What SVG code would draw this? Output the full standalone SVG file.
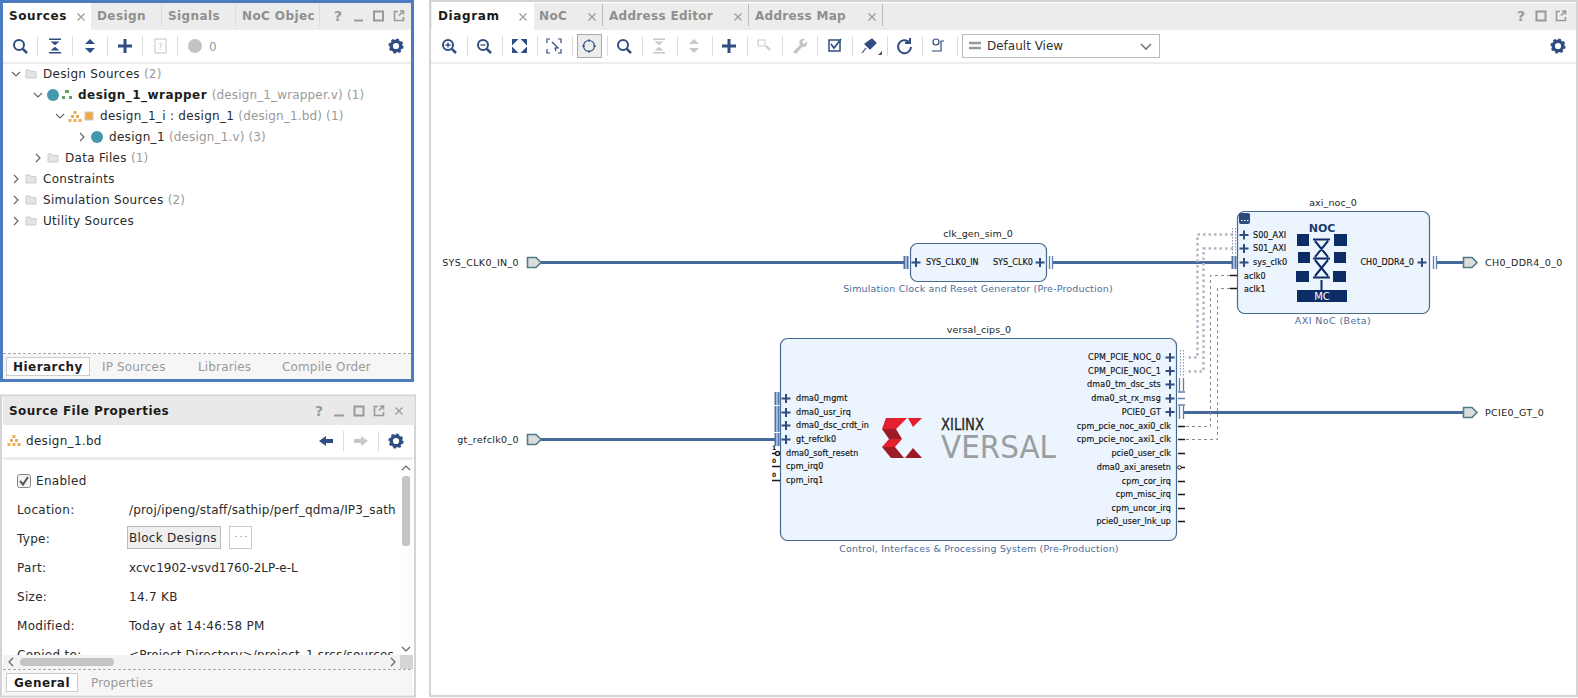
<svg xmlns="http://www.w3.org/2000/svg" width="1578" height="698" viewBox="0 0 1578 698">
<style>
text{font-family:"DejaVu Sans",sans-serif}
.tab{font-size:12px;font-weight:bold;letter-spacing:.4px;fill:#8f8f8f}
.tabon{font-size:12px;font-weight:bold;letter-spacing:.6px;fill:#1c1c1c}
.t{font-size:12px;letter-spacing:.3px;fill:#2a2a2a}
.g{font-size:12px;letter-spacing:.15px;fill:#9a9a9a}
.b{font-size:12px;font-weight:bold;letter-spacing:.45px;fill:#1c1c1c}
.p{font-size:8px;letter-spacing:.08px;fill:#111;stroke:#111;stroke-width:.15px}
.c{letter-spacing:.2px}
.e{text-anchor:end}
.name{font-size:9.5px;fill:#222;text-anchor:middle;letter-spacing:.1px}
.desc{font-size:9.5px;fill:#4f6d9a;text-anchor:middle;letter-spacing:.17px}
.ext{font-size:9.5px;fill:#222;letter-spacing:.35px}
.ic{fill:none;stroke:#2f4d80;stroke-width:2px}
.sep{stroke:#dcdcdc;stroke-width:1px}
.chev{fill:none;stroke:#666;stroke-width:1.2px}
.wire{fill:none;stroke:#47689a;stroke-width:3px}
.bus{fill:none;stroke:#5d7fae;stroke-width:1.3px}
.busk{fill:none;stroke:#4e72a5;stroke-width:2px}
.dot{fill:none;stroke:#7f97ba;stroke-width:1px;stroke-dasharray:1.5 1.5}
.dotw{fill:none;stroke:#b0b8c4;stroke-width:2.5px;stroke-dasharray:2.5 3}
.dash{fill:none;stroke:#8a8a8a;stroke-width:1px;stroke-dasharray:3 3}
.pin{stroke:#1a1a1a;stroke-width:1.7px}
.block{fill:#ecf4fd;stroke:#48698f;stroke-width:1.2px}
.extp{fill:#dcdcdc;stroke:#4e7d88;stroke-width:1.6px}
.navy{fill:#0c2c66}
</style>
<defs>
<path id="plus" d="M-4.500 0H4.500M0-4.500V4.500" fill="none" stroke="#2f4d80" stroke-width="2"/>
<path id="bigplus" d="M-7 0H7M0-7V7" fill="none" stroke="#2f4d80" stroke-width="3"/>
<g id="gear"><circle r="4.800" fill="none" stroke="#2f4d80" stroke-width="3.400"/><circle r="6.600" fill="none" stroke="#2f4d80" stroke-width="2" stroke-dasharray="2.600 2.600"/></g>
<g id="search"><circle cx="-1" cy="-1" r="5" fill="none" stroke="#2f4d80" stroke-width="2"/><path d="M2.800 2.800L7 7" stroke="#2f4d80" stroke-width="2.500"/></g>
<path id="coll" d="M-6-7.500H6V-6H-6ZM-4.500-4.500H4.500L0-.8ZM-4.500 4.500H4.500L0 .8ZM-6 6H6V7.500H-6Z"/>
<path id="exp" d="M-5-2L0-7 5-2ZM-5 2L0 7 5 2Z"/>
<path id="chevd" d="M-4-2L0 2 4-2" class="chev"/>
<path id="chevr" d="M-2-4L2 0-2 4" class="chev"/>
<g id="folder"><path d="M-5-4H-1L0-2.500H5V4H-5Z" fill="#e4e4e4" stroke="#cdcdcd" stroke-width="1"/></g>
<g id="bdi" fill="#eeac58"><rect x="-1.500" y="-5" width="3" height="3"/><rect x="-4" y="-1" width="3" height="3"/><rect x="1" y="-1" width="3" height="3"/><rect x="-6.500" y="3" width="3" height="3"/><rect x="-1.500" y="3" width="3" height="3"/><rect x="3.500" y="3" width="3" height="3"/></g>
<path id="xg" d="M-3.500-3.500L3.500 3.500M3.500-3.500L-3.500 3.500" fill="none" stroke="#9c9c9c" stroke-width="1.300"/>
<g id="win" fill="none" stroke="#9a9a9a" stroke-width="2"><rect x="-4.500" y="-4.500" width="9" height="9"/></g>
<g id="flt" fill="none" stroke="#9a9a9a" stroke-width="1.600"><path d="M-1-4.500H-4.500V4.500H4.500V1M0-.500L4.500-5M1-5H4.500V-1.500"/></g>
<clipPath id="clipProps"><rect x="3" y="460" width="396" height="195"/></clipPath>
</defs>
<rect width="1578" height="698" fill="#fff"/>

<g id="sources-panel">
<rect x="1.500" y="1.500" width="411" height="379" fill="#fff" stroke="#4b7cc0" stroke-width="3"/>
<rect x="3" y="3" width="408" height="27" fill="#ececec"/>
<rect x="3" y="3" width="88" height="27" fill="#fff"/>
<text class="tabon" x="9" y="20">Sources</text><use href="#xg" x="81" y="17"/>
<text class="tab" x="97" y="20">Design</text><path class="sep" d="M161.500 4V26"/>
<text class="tab" x="168" y="20">Signals</text><path class="sep" d="M235.500 4V26"/>
<text class="tab" x="242" y="20">NoC Objec</text><path class="sep" d="M319.500 4V26"/>
<text x="338" y="21" font-size="14" font-weight="bold" fill="#9a9a9a" text-anchor="middle">?</text>
<path d="M354 20.500H363" stroke="#9a9a9a" stroke-width="2"/>
<use href="#win" x="378.500" y="16"/><use href="#flt" x="399" y="16"/>
<use href="#search" x="20" y="46"/><path class="sep" d="M37.500 36V56M72.500 36V56M107.500 36V56M142.500 36V56M177.500 36V56"/>
<use href="#coll" x="55" y="46" fill="#2f4d80"/><use href="#exp" x="90" y="46" fill="#2f4d80"/><use href="#bigplus" x="125" y="46"/>
<rect x="155" y="39" width="11" height="14" fill="none" stroke="#c4c4c4"/><text x="160.500" y="50" font-size="9" fill="#c4c4c4" text-anchor="middle">?</text>
<circle cx="195" cy="46" r="7" fill="#c4c4c4"/><text class="g" x="209" y="51">0</text>
<use href="#gear" x="396" y="46"/>
<rect x="3" y="62" width="408" height="2" fill="#ececec"/>
<use href="#chevd" x="16" y="74"/><use href="#folder" x="31" y="74"/><text class="t" x="43" y="78">Design Sources <tspan class="g">(2)</tspan></text>
<use href="#chevd" x="38" y="95"/><circle cx="53" cy="95" r="6" fill="#4597ad"/><path d="M65 90h4v3h-4zM62 96h3v3h-3zM69 96h3v3h-3z" fill="#5ea06a"/><text class="b" x="78" y="99">design_1_wrapper <tspan class="g" font-weight="normal">(design_1_wrapper.v) (1)</tspan></text>
<use href="#chevd" x="60" y="116"/><use href="#bdi" x="75" y="116"/><rect x="85" y="112" width="8" height="8" fill="#f0a848" stroke="#ccc"/><text class="t" x="100" y="120">design_1_i : design_1 <tspan class="g">(design_1.bd) (1)</tspan></text>
<use href="#chevr" x="82" y="137"/><circle cx="97" cy="137" r="6" fill="#4597ad"/><text class="t" x="109" y="141">design_1 <tspan class="g">(design_1.v) (3)</tspan></text>
<use href="#chevr" x="38" y="158"/><use href="#folder" x="53" y="158"/><text class="t" x="65" y="162">Data Files <tspan class="g">(1)</tspan></text>
<use href="#chevr" x="16" y="179"/><use href="#folder" x="31" y="179"/><text class="t" x="43" y="183">Constraints</text>
<use href="#chevr" x="16" y="200"/><use href="#folder" x="31" y="200"/><text class="t" x="43" y="204">Simulation Sources <tspan class="g">(2)</tspan></text>
<use href="#chevr" x="16" y="221"/><use href="#folder" x="31" y="221"/><text class="t" x="43" y="225">Utility Sources</text>
<rect x="3" y="354" width="408" height="25" fill="#f6f6f6"/>
<path d="M3 353.500H411" stroke="#aaa" stroke-dasharray="3 2"/>
<rect x="6.500" y="357.500" width="83" height="18" fill="#fff" stroke="#ccc"/>
<text class="b" x="13" y="371">Hierarchy</text><text class="g" x="102" y="371">IP Sources</text><text class="g" x="198" y="371">Libraries</text><text class="g" x="282" y="371">Compile Order</text>
</g>

<g id="properties-panel">
<rect x="1" y="395.500" width="414" height="301" fill="#fff" stroke="#d4d4d4" stroke-width="2"/>
<rect x="3" y="397" width="412" height="28" fill="#e9e9e9"/>
<text class="b" x="9" y="415">Source File Properties</text>
<text x="319" y="416" font-size="14" font-weight="bold" fill="#9a9a9a" text-anchor="middle">?</text>
<path d="M334 415.500H344" stroke="#9a9a9a" stroke-width="2"/><use href="#win" x="359" y="411"/><use href="#flt" x="379" y="411"/><use href="#xg" x="399" y="411"/>
<use href="#bdi" x="14" y="440"/><text class="t" x="26" y="445">design_1.bd</text>
<path d="M319 441L326 436V439H333V443H326V446Z" fill="#2f4d80"/><path class="sep" d="M343.500 431V451M378.500 431V451"/><path d="M368 441L361 436V439H354V443H361V446Z" fill="#c8c8c8"/><use href="#gear" x="396" y="441"/>
<rect x="3" y="457" width="410" height="3" fill="#ececec"/>
<g clip-path="url(#clipProps)">
<rect x="17.500" y="474.500" width="13" height="13" rx="2" fill="#f4f4f4" stroke="#888"/><path d="M20 481L23 484.500 28 477" fill="none" stroke="#555" stroke-width="2"/>
<text class="t" x="36" y="485">Enabled</text>
<text class="t" x="17" y="514">Location:</text><text class="t" x="129" y="514" style="letter-spacing:.18px">/proj/ipeng/staff/sathip/perf_qdma/IP3_sath</text>
<text class="t" x="17" y="543">Type:</text><rect x="127.500" y="526.500" width="93" height="22" fill="#efefef" stroke="#bbb"/><text class="t" x="129" y="542">Block Designs</text>
<rect x="229.500" y="526.500" width="22" height="22" fill="#fff" stroke="#c8c8c8"/><path d="M235 536.500h2M240 536.500h2M245 536.500h2" stroke="#bbb"/>
<text class="t" x="17" y="572">Part:</text><text class="t" x="129" y="572" style="letter-spacing:0">xcvc1902-vsvd1760-2LP-e-L</text>
<text class="t" x="17" y="601">Size:</text><text class="t" x="129" y="601">14.7 KB</text>
<text class="t" x="17" y="630">Modified:</text><text class="t" x="129" y="630">Today at 14:46:58 PM</text>
<text class="t" x="17" y="659">Copied to:</text><text class="t" x="129" y="659" style="letter-spacing:.18px">&lt;Project Directory&gt;/project_1.srcs/sources</text>
</g>
<rect x="399" y="460" width="14" height="195" fill="#fdfdfd"/>
<path class="chev" d="M402 470L406 466 410 470M402 647L406 651 410 647"/>
<rect x="402" y="476" width="8" height="70" rx="3" fill="#c4c4c4"/>
<rect x="3" y="655" width="397" height="14" fill="#f3f3f3"/><rect x="400" y="655" width="13" height="14" fill="#d4d4d4"/>
<rect x="20" y="658" width="94" height="8" rx="4" fill="#c4c4c4"/>
<path class="chev" d="M13 658L9 662 13 666M391 658L395 662 391 666"/>
<rect x="3" y="670" width="410" height="25" fill="#f6f6f6"/>
<path d="M3 669.500H413" stroke="#aaa" stroke-dasharray="3 2"/>
<rect x="6.500" y="673.500" width="71" height="18" fill="#fff" stroke="#ccc"/>
<text class="b" x="14" y="687">General</text><text class="g" x="91" y="687">Properties</text>
</g>

<g id="diagram-panel">
<rect x="430" y="1" width="1147" height="695" fill="#fff" stroke="#d4d4d4" stroke-width="2"/>
<rect x="431" y="3" width="1145" height="27" fill="#ececec"/>
<rect x="432" y="3" width="102" height="27" fill="#fff"/>
<text class="tabon" x="438" y="20">Diagram</text><use href="#xg" x="523" y="17"/>
<text class="tab" x="539" y="20">NoC</text><use href="#xg" x="592" y="17"/><path class="sep" d="M602.500 4V26" style="stroke:#bbb"/>
<text class="tab" x="609" y="20" style="letter-spacing:.3px">Address Editor</text><use href="#xg" x="738" y="17"/><path class="sep" d="M748.500 4V26" style="stroke:#bbb"/>
<text class="tab" x="755" y="20" style="letter-spacing:.3px">Address Map</text><use href="#xg" x="872" y="17"/><path class="sep" d="M882.500 4V26" style="stroke:#bbb"/>
<text x="1521" y="21" font-size="14" font-weight="bold" fill="#9a9a9a" text-anchor="middle">?</text>
<use href="#win" x="1541" y="16"/><use href="#flt" x="1561" y="16"/>
<path class="sep" d="M467.500 36V56M502.500 36V56M537.500 36V56M572.500 36V56M607.500 36V56M642.500 36V56M677.500 36V56M712.500 36V56M747.500 36V56M782.500 36V56M817.500 36V56M852.500 36V56M887.500 36V56M922.500 36V56M957.500 36V56"/>
<use href="#search" x="449" y="46"/><path d="M445.500 45H450.500M448 42.500V47.500" stroke="#2f4d80" stroke-width="1.300"/>
<use href="#search" x="484" y="46"/><path d="M480.500 45H485.500" stroke="#2f4d80" stroke-width="1.300"/>
<path d="M513 43V40H516ZM526 43V40H523ZM513 49V52H516ZM526 49V52H523Z" stroke="#2f4d80" stroke-width="2" fill="#2f4d80"/>
<path class="ic" style="stroke-width:1.200px" d="M547 43V39H550M558 39H561V43M547 49V53H550M558 53H561V49M552 42L558 48 555 48 556 51"/>
<rect x="577.500" y="34.500" width="24" height="23" fill="#ececec" stroke="#aaa"/><circle cx="589" cy="46" r="5.500" class="ic" style="stroke-width:1.200px"/><path d="M589 39V42M589 50V53M582 46H585M593 46H596" stroke="#2f4d80" stroke-width="1"/>
<use href="#search" x="624" y="46"/>
<use href="#coll" x="659" y="46" fill="#c8c8c8"/><use href="#exp" x="694" y="46" fill="#c8c8c8"/><use href="#bigplus" x="729" y="46"/>
<rect x="758" y="40" width="7" height="6" fill="none" stroke="#c8c8c8" stroke-width="1"/><path d="M766 46L770 50" stroke="#c8c8c8" stroke-width="2"/>
<path d="M793 52L800 45C798 41 801 38 805 39L802 42 804 44 807 41C808 45 805 48 802 47L796 54Z" fill="#c4c4c4"/>
<rect x="829" y="40" width="11" height="11" class="ic" style="stroke-width:1.500px"/><path d="M831 44L834 48 841 39" fill="none" stroke="#2f4d80" stroke-width="1.700"/>
<path d="M865 44L869 41 872 39 876 43 873 46 870 49ZM866 48L862 53" fill="#2f4d80" stroke="#2f4d80" stroke-width="1.200"/><path d="M878 55L882 55 882 51Z" fill="#555"/>
<path class="ic" style="stroke-width:2px" d="M909 42A6.500 6.500 0 1 0 911 47M910 38V43H905"/>
<circle cx="936" cy="42" r="3" class="ic" style="stroke-width:1.200px"/><path class="ic" style="stroke-width:1.200px" d="M932 51H941V41H944"/>
<rect x="962.500" y="34.500" width="197" height="23" fill="#fff" stroke="#bbb"/>
<path d="M969 43H981M969 48H981" stroke="#999" stroke-width="2.500"/><text x="987" y="50" font-size="12" fill="#333">Default View</text>
<path d="M1141 44L1146 49 1151 44" fill="none" stroke="#777" stroke-width="1.600"/>
<use href="#gear" x="1558" y="46"/>
<rect x="431" y="62" width="1145" height="2" fill="#ececec"/>
</g>

<g id="connectors">
<path class="wire" d="M541 262.500H904M1053 262.500H1232M1437 262.500H1463M541 439.500H775M1184 412.500H1463"/>
<path class="dotw" d="M1233 234.500H1197.500V357.500H1185M1233 248.500H1203.500V371.500H1185"/>
<path class="dash" d="M1230 275.500H1210.500V426.500H1185M1230 288.500H1217.500V439.500H1185"/>
</g>

<g id="port-SYS_CLK0_IN_0"><path class="extp" d="M527.500 257.500H536L541 262.500 536 267.500H527.500Z"/><text class="ext e" x="519" y="266">SYS_CLK0_IN_0</text></g>
<g id="port-gt_refclk0_0"><path class="extp" d="M527.500 434.500H536L541 439.500 536 444.500H527.500Z"/><text class="ext e" x="519" y="443">gt_refclk0_0</text></g>
<g id="port-CH0_DDR4_0_0"><path class="extp" d="M1463.500 257.500H1472L1477 262.500 1472 267.500H1463.500Z"/><text class="ext" x="1485" y="266">CH0_DDR4_0_0</text></g>
<g id="port-PCIE0_GT_0"><path class="extp" d="M1463.500 407.500H1472L1477 412.500 1472 417.500H1463.500Z"/><text class="ext" x="1485" y="416">PCIE0_GT_0</text></g>

<g id="clk_gen_sim_0">
<text class="name" x="978" y="237">clk_gen_sim_0</text>
<rect class="block" x="910.500" y="243.500" width="136" height="38" rx="7"/>
<path class="busk" d="M904.500 256V269M907.500 256V269"/><path class="bus" d="M1049.500 256V269M1052.500 256V269"/>
<use href="#plus" x="916" y="262.500"/><use href="#plus" x="1040" y="262.500"/>
<text class="p" x="926" y="265">SYS_CLK0_IN</text><text class="p e" x="1033" y="265">SYS_CLK0</text>
<text class="desc" x="978" y="292">Simulation Clock and Reset Generator (Pre-Production)</text>
</g>

<g id="axi_noc_0">
<text class="name" x="1333" y="206">axi_noc_0</text>
<rect class="block" x="1237.500" y="211.500" width="192" height="102" rx="7"/>
<rect x="1239" y="213" width="11" height="11" rx="2" fill="#2c4b7c"/><path d="M1241 220.500h1.500M1244 220.500h1.500M1247 220.500h1.500" stroke="#fff"/>
<path class="dot" d="M1232.500 228V254M1235.500 228V254"/>
<path class="busk" d="M1232.500 256V269M1235.500 256V269"/><path class="bus" d="M1433.500 256V269M1436.500 256V269"/>
<use href="#plus" x="1244" y="235"/><use href="#plus" x="1244" y="248.500"/><use href="#plus" x="1244" y="262.500"/><use href="#plus" x="1422" y="262.500"/>
<path class="pin" d="M1230 275.500H1237M1230 288.500H1237"/>
<text class="p" x="1253" y="238">S00_AXI</text><text class="p" x="1253" y="251">S01_AXI</text><text class="p" x="1253" y="265">sys_clk0</text>
<text class="p" x="1244" y="279">aclk0</text><text class="p" x="1244" y="292">aclk1</text><text class="p e" x="1414" y="265">CH0_DDR4_0</text>
<text x="1322" y="232" font-size="11" font-weight="bold" fill="#1b3a72" text-anchor="middle">NOC</text>
<path class="navy" d="M1297 234h12v12h-12zM1334 234h13v12h-13zM1298 252h12v11h-12zM1334 252h12v11h-12zM1296 271h13v11h-13zM1333 271h13v11h-13z"/>
<path d="M1313 239.500H1330M1313 258.500H1330M1313 277.500H1330M1315 241L1328 257M1328 241L1315 257M1315 260L1328 276M1328 260L1315 276M1321.500 280V290" stroke="#0c2c66" stroke-width="2" fill="none"/>
<rect class="navy" x="1297" y="290" width="50" height="12"/>
<text x="1322" y="300" font-size="10" fill="#fff" text-anchor="middle">MC</text>
<text class="desc" x="1333" y="324" style="letter-spacing:.4px">AXI NoC (Beta)</text>
</g>

<g id="versal_cips_0">
<text class="name" x="979" y="333">versal_cips_0</text>
<rect class="block" x="780.500" y="338.500" width="396" height="202" rx="7"/>
<path class="busk" d="M775.500 392V405M778.500 392V405M775.500 406V419M778.500 406V419M775.500 419V432M778.500 419V432M775.500 433V446M778.500 433V446"/>
<use href="#plus" x="786" y="398.500"/><use href="#plus" x="786" y="412.500"/><use href="#plus" x="786" y="425.500"/><use href="#plus" x="786" y="439.500"/>
<path class="pin" d="M772 453.500H780M772 466.500H780M772 480.500H780"/><circle cx="777.500" cy="453.500" r="2" fill="#fff" stroke="#1a1a1a" stroke-width="1.300"/>
<g font-size="6" fill="#111" font-weight="bold"><text x="772" y="449.500">1</text><text x="772" y="463">0</text><text x="772" y="477">0</text></g>
<text class="p" x="796" y="401">dma0_mgmt</text><text class="p" x="796" y="415">dma0_usr_irq</text><text class="p" x="796" y="428">dma0_dsc_crdt_in</text><text class="p" x="796" y="442">gt_refclk0</text><text class="p" x="786" y="456">dma0_soft_resetn</text><text class="p" x="786" y="469">cpm_irq0</text><text class="p" x="786" y="483">cpm_irq1</text>
<g id="versal-logo">
<path fill="#e3202d" d="M886 418H907L896 429H882ZM889 439H902L895 447H882ZM908 418H922L913 427Z"/>
<path fill="#9c1c26" d="M882 429H896L902 439H889ZM882 447H895L904 458H891ZM913 448L922 458H905Z"/>
<text x="941" y="430" font-family="Liberation Sans,sans-serif" font-size="16" fill="#222" stroke="#222" stroke-width=".3" textLength="43" lengthAdjust="spacingAndGlyphs">XILINX</text>
<text x="941" y="458" font-family="Liberation Sans,sans-serif" font-size="32" fill="#9a9ea1" textLength="115" lengthAdjust="spacingAndGlyphs">VERSAL</text>
</g>
<path class="dot" d="M1180.500 350V377M1183.500 350V377"/>
<path class="bus" d="M1179.500 378V391M1183.500 378V391M1178 392H1185M1178 398.500H1185M1178 405H1185M1179.500 406V419M1183.500 406V419"/>
<use href="#plus" x="1170" y="357.500"/><use href="#plus" x="1170" y="371"/><use href="#plus" x="1170" y="384.500"/><use href="#plus" x="1170" y="398.500"/><use href="#plus" x="1170" y="412"/>
<path class="pin" d="M1178 426.500H1185M1178 439.500H1185M1178 453.500H1185M1178 467.500H1185M1178 481.500H1185M1178 494.500H1185M1178 508.500H1185M1178 521.500H1185"/><circle cx="1179.500" cy="467.500" r="1.800" fill="#fff" stroke="#1a1a1a"/>
<text class="p e c" x="1161" y="360">CPM_PCIE_NOC_0</text><text class="p e c" x="1161" y="374">CPM_PCIE_NOC_1</text><text class="p e c" x="1161" y="387">dma0_tm_dsc_sts</text><text class="p e c" x="1161" y="401">dma0_st_rx_msg</text><text class="p e c" x="1161" y="415">PCIE0_GT</text>
<text class="p e" x="1171" y="429">cpm_pcie_noc_axi0_clk</text><text class="p e" x="1171" y="442">cpm_pcie_noc_axi1_clk</text><text class="p e" x="1171" y="456">pcie0_user_clk</text><text class="p e" x="1171" y="470">dma0_axi_aresetn</text><text class="p e" x="1171" y="484">cpm_cor_irq</text><text class="p e" x="1171" y="497">cpm_misc_irq</text><text class="p e" x="1171" y="511">cpm_uncor_irq</text><text class="p e" x="1171" y="524">pcie0_user_lnk_up</text>
<text class="desc" x="979" y="552">Control, Interfaces &amp; Processing System (Pre-Production)</text>
</g>
</svg>
